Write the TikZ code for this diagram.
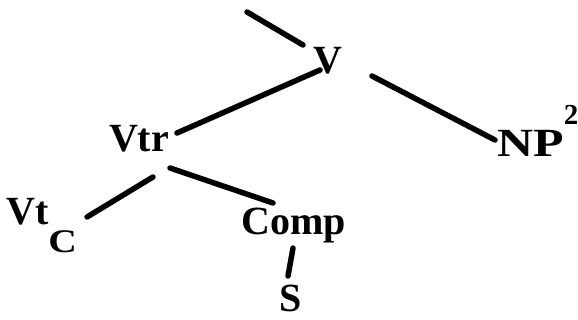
\documentclass[tikz,border=0pt]{standalone}
\usepackage{fontspec}
\setmainfont{Liberation Serif}
\usetikzlibrary{calc}
\tikzset{
  lbl/.style={inner sep=0pt, font=\fontsize{40}{40}\selectfont\bfseries},
  edge/.style={line width=5.5pt, line cap=round}
}
\begin{document}
\begin{tikzpicture}[x=1pt,y=-1pt]
\useasboundingbox (0,0) rectangle (578,320);
\node[lbl, anchor=base] (V) at (328,74) {V};
\node[lbl, anchor=base] (Vtr) at (139,152) {Vtr};
\node[lbl, anchor=base west] (NP) at (497,157) {\scalebox{1.25}[1]{NP}\raisebox{32pt}{\fontsize{29}{29}\selectfont\bfseries 2}};
\node[lbl, anchor=base west] (VtC) at (6,225) {Vt\raisebox{-28pt}{\scalebox{1.2}[1]{\fontsize{33}{33}\selectfont\bfseries C}}};
\node[lbl, anchor=base] (Comp) at (294,235) {Comp};
\node[lbl, anchor=base] (S) at (291,312) {S};
\coordinate (top) at (247,12);
\draw[edge] (top) -- ($(V.base)+(-25,-29)$);
\draw[edge] ($(V.base)+(-8,-4)$) -- ($(Vtr.base)+(38,-19)$);
\draw[edge] ($(V.base)+(44,2)$) -- ($(NP.base west)+(-2,-17)$);
\draw[edge] ($(Vtr.base)+(14,25)$) -- ($(VtC.base west)+(81,-8)$);
\draw[edge] ($(Vtr.base)+(31,16)$) -- ($(Comp.base)+(-21,-32)$);
\draw[edge] ($(Comp.base)+(-1,13)$) -- ($(S.base)+(-3,-36)$);
\end{tikzpicture}
\end{document}
